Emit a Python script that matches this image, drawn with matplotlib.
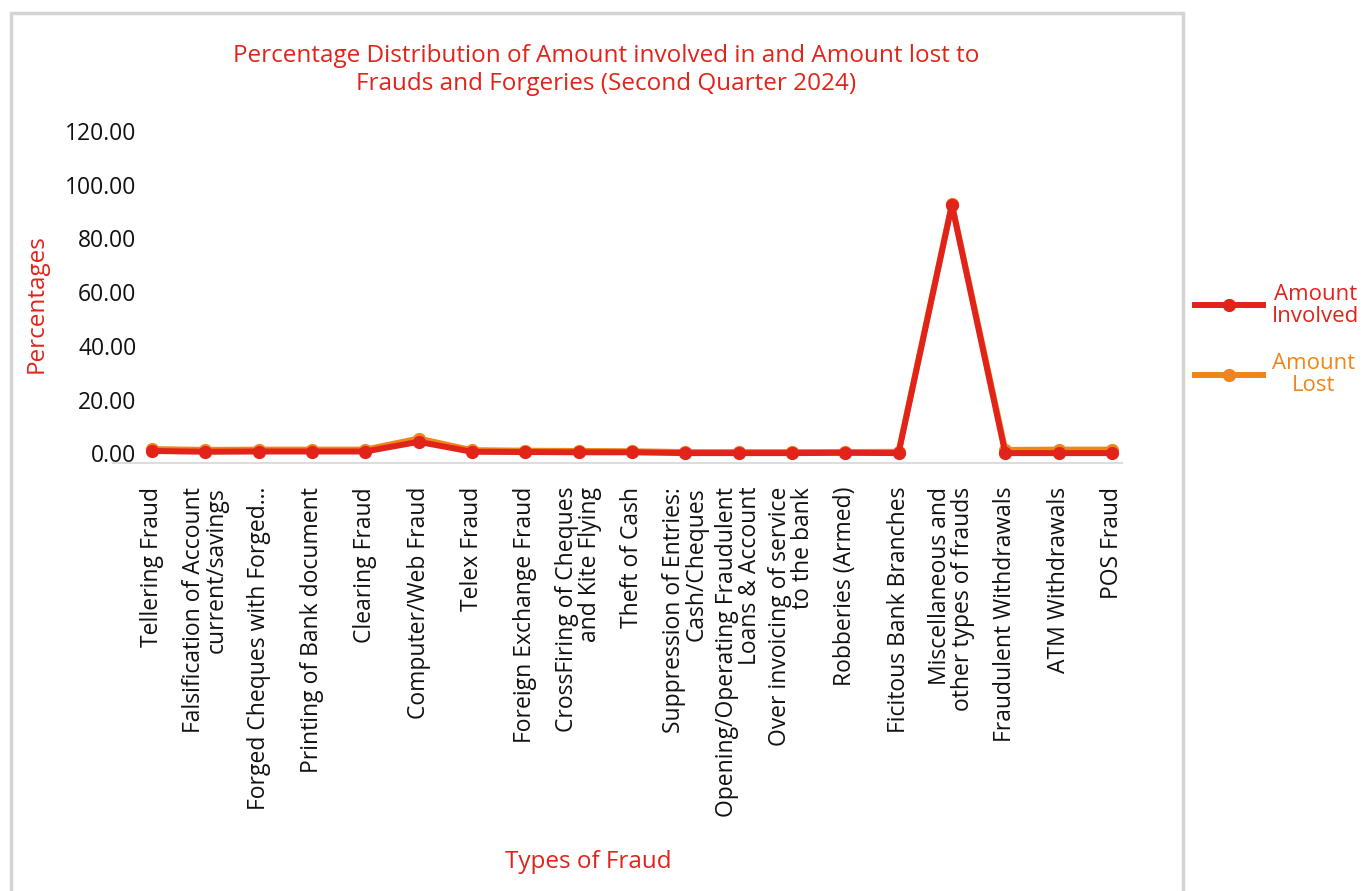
import matplotlib
matplotlib.use("Agg")
import matplotlib.pyplot as plt
from matplotlib.patches import Rectangle

plt.rcParams['font.family'] = ['Open Sans', 'DejaVu Sans']

categories = [
    "Tellering Fraud",
    "Falsification of Account\ncurrent/savings",
    "Forged Cheques with Forged...",
    "Printing of Bank document",
    "Clearing Fraud",
    "Computer/Web Fraud",
    "Telex Fraud",
    "Foreign Exchange Fraud",
    "CrossFiring of Cheques\nand Kite Flying",
    "Theft of Cash",
    "Suppression of Entries:\nCash/Cheques",
    "Opening/Operating Fraudulent\nLoans & Account",
    "Over invoicing of service\nto the bank",
    "Robberies (Armed)",
    "Ficitous Bank Branches",
    "Miscellaneous and\nother types of frauds",
    "Fraudulent Withdrawals",
    "ATM Withdrawals",
    "POS Fraud",
]
amount_involved = [0.9, 0.6, 0.7, 0.7, 0.7, 4.3, 0.6, 0.5, 0.4, 0.4,
                   0.1, 0.1, 0.1, 0.2, 0.1, 92.5, 0.1, 0.1, 0.1]
amount_lost = [1.6, 1.3, 1.4, 1.4, 1.4, 5.5, 1.2, 1.0, 0.9, 0.8,
               0.5, 0.5, 0.5, 0.5, 0.6, 92.8, 1.3, 1.4, 1.4]
y_ticks = [0, 20, 40, 60, 80, 100, 120]

RED = "#e2231a"
ORANGE = "#f08519"

fig = plt.figure(figsize=(13.71, 8.91), dpi=100)
ax = fig.add_axes([0.0824, 0.480, 0.736, 0.385])

x = list(range(len(categories)))
ax.plot(x, amount_lost, color=ORANGE, lw=4.3, marker="o", ms=8.5,
        solid_joinstyle="round", label="Amount\nLost", zorder=2)
ax.plot(x, amount_involved, color=RED, lw=4.3, marker="o", ms=8.5,
        solid_joinstyle="round", label="Amount\nInvolved", zorder=3)

ax.set_xlim(-0.73, 18.19)
ax.set_ylim(-3.7, 124)
ax.set_yticks(y_ticks)
ax.set_yticklabels([f"{v:.2f}" for v in y_ticks], fontsize=16.5, color="#111111")
ax.set_xticks(x)
ax.set_xticklabels(categories, rotation=90, fontsize=16.5, color="#111111",
                   va="top", ha="center", multialignment="right",
                   linespacing=0.95)
ax.tick_params(axis="both", length=0)
ax.tick_params(axis="x", pad=17)
ax.tick_params(axis="y", pad=-17)

for side in ("top", "right", "left"):
    ax.spines[side].set_visible(False)
ax.spines["bottom"].set_color("#dddddd")
ax.spines["bottom"].set_linewidth(1.5)

fig.text(37 / 1371, 1 - 304 / 891, "Percentages", color=RED,
         fontsize=17.5, rotation=90, ha="center", va="center")
fig.text(588 / 1371, 1 - 862 / 891, "Types of Fraud", color=RED,
         fontsize=17.5, ha="center", va="center")

fig.text(606 / 1371, 1 - 70 / 891,
         "Percentage Distribution of Amount involved in and Amount lost to\n"
         "Frauds and Forgeries (Second Quarter 2024)",
         color=RED, fontsize=17.5, ha="center", va="center", linespacing=1.25)

# outer frame around the chart area
frame = Rectangle((11 / 1371, -0.05), (1183 - 11) / 1371, 1.05 - 13 / 891,
                  transform=fig.transFigure, fill=False,
                  edgecolor="#d4d4d4", linewidth=2.5)
fig.patches.append(frame)

handles, labels = ax.get_legend_handles_labels()
leg = fig.legend(handles[::-1], labels[::-1], loc="center left",
                 bbox_to_anchor=(1175 / 1371, 1 - 340 / 891),
                 frameon=False, fontsize=16, handlelength=3.05,
                 labelspacing=1.2, handletextpad=0.4,
                 labelcolor="linecolor")
for t in leg.get_texts():
    t.set_multialignment("center")
    t.set_linespacing(1.05)

fig.savefig("out.png", dpi=100)
